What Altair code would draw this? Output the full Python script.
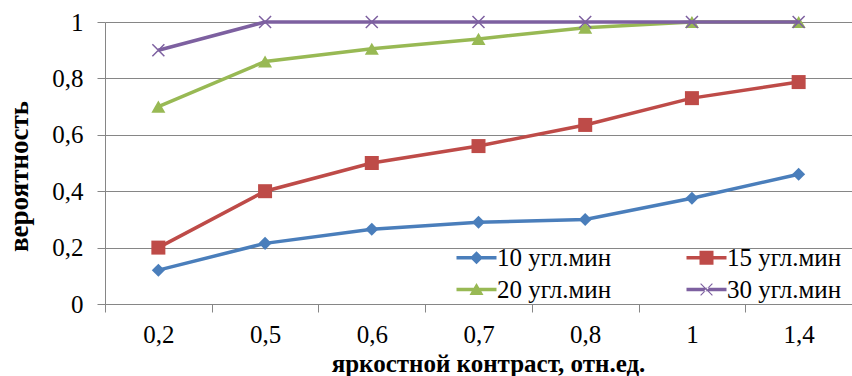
import altair as alt
import pandas as pd

# Brightness contrast categories and detection probability per target size
contrast = ["0,2", "0,5", "0,6", "0,7", "0,8", "1", "1,4"]
series = ["10 угл.мин", "15 угл.мин", "20 угл.мин", "30 угл.мин"]
p_10 = [0.12, 0.215, 0.265, 0.29, 0.30, 0.375, 0.46]
p_15 = [0.20, 0.40, 0.50, 0.56, 0.635, 0.73, 0.787]
p_20 = [0.70, 0.86, 0.905, 0.94, 0.98, 1.0, 1.0]
p_30 = [0.90, 1.0, 1.0, 1.0, 1.0, 1.0, 1.0]
y_ticks = [0, 0.2, 0.4, 0.6, 0.8, 1.0]

rows = []
for name, vals in zip(series, [p_10, p_15, p_20, p_30]):
    for c, v in zip(contrast, vals):
        rows.append({"contrast": c, "series": name, "p": v})
df = pd.DataFrame(rows)

FONT = "'Liberation Serif', 'Times New Roman', serif"
GRID = "#868686"
palette = ["#4A7EBB", "#BE4B48", "#98B954", "#7D60A0"]
color_scale = alt.Scale(domain=series, range=palette)

# marker style per series on the plot
markers = [
    dict(shape="diamond", size=170, filled=True, strokeWidth=0),
    dict(shape="square", size=196, filled=True, strokeWidth=0),
    dict(shape="triangle-up", size=196, filled=True, strokeWidth=0),
    dict(shape="M-1,-1L1,1M-1,1L1,-1", size=144, filled=False, strokeWidth=1.5),
]

# legend swatches: a short line with the marker in its middle
LINE = "M-1,-0.17L3,-0.17L3,0.17L-1,0.17Z"
legend_shapes = [
    LINE + "M1,-0.65L1.65,0L1,0.65L0.35,0Z",
    LINE + "M0.3,-0.7L1.7,-0.7L1.7,0.7L0.3,0.7Z",
    LINE + "M1,-0.65L1.7,0.55L0.3,0.55Z",
    LINE + "M0.37,-0.55L0.45,-0.63L1.63,0.55L1.55,0.63Z"
    "M1.63,-0.55L1.55,-0.63L0.37,0.55L0.45,0.63Z",
]

legend_cfg = dict(
    orient="none", legendX=349, legendY=223, columns=2, direction="horizontal",
    columnPadding=72, rowPadding=6,
    title=None, labelFont=FONT, labelFontSize=25, labelColor="black", labelOffset=18,
    labelLimit=300, symbolSize=400, symbolOpacity=1, symbolStrokeWidth=0, padding=0,
)

x = alt.X(
    "contrast:N", sort=contrast, bandPosition=0.5,
    scale=alt.Scale(type="band", paddingInner=0, paddingOuter=0),
    axis=alt.Axis(
        title="яркостной контраст, отн.ед.", labelAngle=0, tickBand="extent", grid=False,
        domainColor=GRID, tickColor=GRID, tickSize=8, labelPadding=10,
        labelFont=FONT, labelFontSize=25, labelColor="black",
        titleFont=FONT, titleFontSize=25, titleFontWeight="bold", titleColor="black",
        titleX=383, titleY=67, titleAlign="center", titleBaseline="alphabetic",
    ),
)
y = alt.Y(
    "p:Q", scale=alt.Scale(domain=[0, 1], nice=False),
    axis=alt.Axis(
        title="вероятность", values=y_ticks,
        labelExpr="replace(format(datum.value, '.1~f'), '.', ',')",
        grid=True, gridColor=GRID, domainColor=GRID, tickColor=GRID, tickSize=8,
        labelPadding=14, labelFont=FONT, labelFontSize=25, labelColor="black",
        titleFont=FONT, titleFontSize=27, titleFontWeight="bold", titleColor="black",
        titleX=-86, titleY=154, titleAngle=-90, titleAlign="center", titleBaseline="middle",
    ),
)
color = alt.Color("series:N", scale=color_scale, legend=alt.Legend(**legend_cfg))

layers = []
for name, style in zip(series, markers):
    sub = alt.Chart(df).transform_filter(alt.datum.series == name)
    layers.append(sub.mark_line(strokeWidth=3.5).encode(x=x, y=y, color=color))
    layers.append(sub.mark_point(opacity=1, **style).encode(x=x, y=y, color=color))

# invisible layer that carries the legend swatches
legend_layer = alt.Chart(df).mark_point(filled=True, opacity=0).encode(
    x=x, y=y,
    color=color,
    shape=alt.Shape("series:N", scale=alt.Scale(domain=series, range=legend_shapes),
                    legend=alt.Legend(**legend_cfg)),
)
layers.append(legend_layer)

chart = alt.layer(*layers).properties(
    width=747, height=282,
    autosize=alt.AutoSizeParams(type="none"),
    padding={"left": 105, "top": 22, "right": 0, "bottom": 72},
    background="white",
).configure(font=FONT).configure_view(stroke=None)

chart.save("out.html", embed_options={"renderer": "svg", "actions": False})
